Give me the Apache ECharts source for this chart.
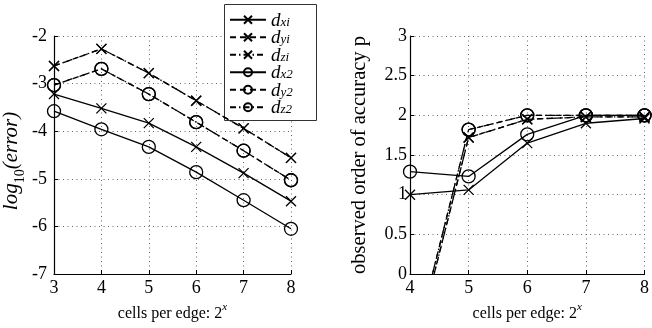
<!DOCTYPE html>
<html>
<head>
<meta charset="utf-8">
<script src="https://cdn.jsdelivr.net/npm/echarts@6/dist/echarts.min.js"></script>
<style>
  html, body { margin: 0; padding: 0; background: #fff; }
  #chart { width: 652px; height: 328px; }
</style>
</head>
<body>
<div id="chart"></div>
<script>
// 左图：误差（log10）
const xLeft = [3, 4, 5, 6, 7, 8]
const errDxi = [-3.22, -3.52, -3.83, -4.33, -4.88, -5.47]
const errDyi = [-2.63, -2.27, -2.78, -3.36, -3.94, -4.56]
const errDzi = [-2.63, -2.27, -2.78, -3.36, -3.94, -4.56]
const errDx2 = [-3.58, -3.96, -4.33, -4.86, -5.45, -6.05]
const errDy2 = [-3.03, -2.69, -3.22, -3.81, -4.41, -5.03]
const errDz2 = [-3.03, -2.69, -3.22, -3.81, -4.41, -5.03]

// 右图：观测精度阶
const xRight = [4, 5, 6, 7, 8]
const ordDxi = [1.0, 1.06, 1.65, 1.9, 1.96]
const ordDyi = [-1.2, 1.72, 1.95, 1.98, 1.98]
const ordDzi = [-1.2, 1.72, 1.95, 1.98, 1.98]
const ordDx2 = [1.29, 1.23, 1.76, 2.0, 2.0]
const ordDy2 = [-1.13, 1.82, 2.0, 2.0, 2.0]
const ordDz2 = [-1.13, 1.82, 2.0, 2.0, 2.0]

const names = ['dxi', 'dyi', 'dzi', 'dx2', 'dy2', 'dz2']

const SERIF = 'Liberation Serif'
const crossPath = 'path://M0,0L10,10M0,10L10,0'
const circlePath = 'path://M10,5A5,5,0,1,1,0,5A5,5,0,1,1,10,5Z'
const dashType = { solid: 'solid', dashed: [6, 4], dashdot: [6, 3, 1.5, 3] }

function zip(xs, ys) {
  return xs.map((x, i) => [x, ys[i]])
}

function makeSeries(name, idx, xs, ys, marker, dash) {
  return {
    name: name,
    type: 'line',
    xAxisIndex: idx,
    yAxisIndex: idx,
    data: zip(xs, ys),
    symbol: marker === 'x' ? crossPath : circlePath,
    symbolSize: marker === 'x' ? 10 : 13,
    clip: true,
    lineStyle: { color: '#000', width: 1.3, type: dashType[dash] },
    itemStyle: { color: 'none', borderColor: '#000', borderWidth: 1.3 },
    emphasis: { disabled: true },
    animation: false
  }
}

const styles = [
  ['x', 'solid'], ['x', 'dashed'], ['x', 'dashdot'],
  ['o', 'solid'], ['o', 'dashed'], ['o', 'dashdot']
]
const leftData = [errDxi, errDyi, errDzi, errDx2, errDy2, errDz2]
const rightData = [ordDxi, ordDyi, ordDzi, ordDx2, ordDy2, ordDz2]

const series = []
names.forEach((n, i) => {
  series.push(makeSeries(n, 0, xLeft, leftData[i], styles[i][0], styles[i][1]))
})
names.forEach((n, i) => {
  series.push(makeSeries(n, 1, xRight, rightData[i], styles[i][0], styles[i][1]))
})

const axisLabelStyle = { color: '#000', fontFamily: SERIF, fontSize: 18 }
const splitDots = { show: true, lineStyle: { color: '#666', width: 1, type: [1, 3.5] } }
const axisLineBlack = { show: true, lineStyle: { color: '#000', width: 1.2 } }
const ticksIn = { show: true, inside: true, length: 4, lineStyle: { color: '#000' } }

const xName = '{t|cells per edge: 2}{sup|x}'
const xNameStyle = {
  fontFamily: SERIF,
  rich: {
    t: { fontFamily: SERIF, fontSize: 16, color: '#000', lineHeight: 20, verticalAlign: 'bottom' },
    sup: { fontFamily: SERIF, fontSize: 11, fontStyle: 'italic', color: '#000', lineHeight: 20, verticalAlign: 'top' }
  }
}

let myChart = echarts.init(document.getElementById('chart'))
myChart.setOption({
  backgroundColor: '#fff',
  animation: false,
  grid: [
    { left: 53, top: 36, width: 238, height: 238 },
    { left: 410, top: 36, width: 238, height: 238 }
  ],
  xAxis: [
    {
      gridIndex: 0, type: 'value', min: 3, max: 8, interval: 1,
      axisLine: axisLineBlack, axisTick: ticksIn, splitLine: splitDots,
      axisLabel: Object.assign({ margin: 5 }, axisLabelStyle),
      name: xName, nameLocation: 'middle', nameGap: 28, nameTextStyle: xNameStyle
    },
    {
      gridIndex: 1, type: 'value', min: 4, max: 8, interval: 1,
      axisLine: axisLineBlack, axisTick: ticksIn, splitLine: splitDots,
      axisLabel: Object.assign({ margin: 5 }, axisLabelStyle),
      name: xName, nameLocation: 'middle', nameGap: 28, nameTextStyle: xNameStyle
    }
  ],
  yAxis: [
    {
      gridIndex: 0, type: 'value', min: -7, max: -2, interval: 1,
      axisLine: axisLineBlack, axisTick: ticksIn, splitLine: splitDots,
      axisLabel: Object.assign({ margin: 7 }, axisLabelStyle),
      name: '{i|log}{sub|10}{i|(error)}', nameLocation: 'middle', nameRotate: 90, nameGap: 27,
      nameTextStyle: {
        padding: [0, 12, 0, 0],
        rich: {
          i: { fontFamily: SERIF, fontStyle: 'italic', fontSize: 21, color: '#000', lineHeight: 26, verticalAlign: 'top' },
          sub: { fontFamily: SERIF, fontSize: 14, color: '#000', lineHeight: 26, verticalAlign: 'bottom' }
        }
      }
    },
    {
      gridIndex: 1, type: 'value', min: 0, max: 3, interval: 0.5,
      axisLine: axisLineBlack, axisTick: ticksIn, splitLine: splitDots,
      axisLabel: Object.assign({ margin: 3 }, axisLabelStyle),
      name: 'observed order of accuracy p', nameLocation: 'middle', nameRotate: 90, nameGap: 40,
      nameTextStyle: { fontFamily: SERIF, fontSize: 20.5, color: '#000' }
    }
  ],
  // 图例的白底边框
  graphic: [{
    type: 'rect',
    left: 224,
    top: 4,
    z: 3,
    shape: { width: 92, height: 116 },
    style: { fill: '#fff', stroke: '#333', lineWidth: 1 }
  }],
  legend: {
    data: names,
    orient: 'vertical',
    left: 224,
    top: 4,
    padding: [7, 3, 3, 5],
    itemGap: -1.5,
    itemWidth: 36,
    itemHeight: 10,
    z: 5,
    selectedMode: false,
    formatter: function (n) {
      return '{d|d}{s|' + n.slice(1) + '}'
    },
    textStyle: {
      rich: {
        d: { fontFamily: SERIF, fontStyle: 'italic', fontSize: 19, color: '#000', lineHeight: 17.6, verticalAlign: 'top' },
        s: { fontFamily: SERIF, fontStyle: 'italic', fontSize: 13, color: '#000', lineHeight: 17.6, verticalAlign: 'bottom' }
      }
    }
  },
  series: series
})
</script>
</body>
</html>
